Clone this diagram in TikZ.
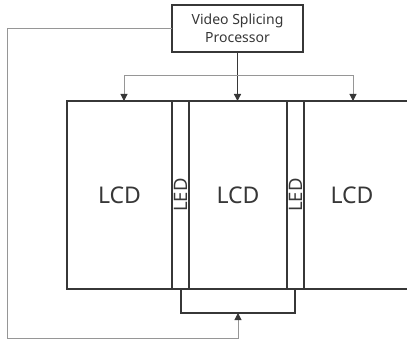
\documentclass[tikz,border=0pt]{standalone}
\usepackage{fontspec}
\setmainfont{Noto Sans}
\usetikzlibrary{arrows.meta,positioning,calc}
\definecolor{inkgray}{RGB}{55,55,55}
\definecolor{wiregray}{RGB}{150,150,150}
\tikzset{
  panel/.style={draw=inkgray,line width=1.3pt,minimum height=188pt,
    inner sep=0pt,outer sep=0pt,text=inkgray},
  lcdbox/.style={panel,font=\fontsize{23}{26}\selectfont},
  ledbox/.style={panel,minimum width=17pt},
  ledtext/.style={rotate=90,text=inkgray,font=\fontsize{18.5}{20}\selectfont},
  feed/.style={draw=inkgray,line width=1.3pt,-{Triangle[length=7pt,width=7pt]}},
  bus/.style={draw=wiregray,line width=1pt},
  busarrow/.style={bus,-{Triangle[length=7pt,width=7pt,color=inkgray]}}
}

\begin{document}
\begin{tikzpicture}[x=1pt,y=-1pt]
    \clip (0,0) rectangle (407,339);
    % processor
    \node[draw=inkgray,line width=1.3pt,minimum width=131pt,minimum height=47pt,
          inner sep=0pt,outer sep=0pt,align=center,text=inkgray,
          font=\fontsize{14}{18}\selectfont] (proc) at (237.5,28.5)
      {Video Splicing\\Processor};
    % the wall of panels
    \node[lcdbox,minimum width=105pt] (lcd1) at (119.5,195) {LCD};
    \node[ledbox,right=0pt of lcd1] (led1) {};
    \node[lcdbox,minimum width=98pt,right=0pt of led1] (lcd2) {LCD};
    \node[ledbox,right=0pt of lcd2] (led2) {};
    \node[lcdbox,minimum width=116pt,right=0pt of led2,text width=100pt,
          align=center] (lcd3) {\hspace*{-20pt}LCD};
    \node[ledtext] at (led1) {LED};
    \node[ledtext] at (led2) {LED};
    % joint under the middle
    \node[draw=inkgray,line width=1.3pt,minimum width=114pt,minimum height=24pt,
          inner sep=0pt,outer sep=0pt,anchor=north] (hub) at (238,289) {};
    % feeds from the processor
    \coordinate (busL) at (124,76);
    \coordinate (busR) at (353,76);
    \draw[feed] (proc.south) -- (proc.south |- lcd2.north);
    \draw[busarrow] (proc.south |- busL) -| (busL |- lcd1.north);
    \draw[busarrow] (proc.south |- busR) -| (busR |- lcd3.north);
    % return loop
    \coordinate (loop) at (7,338);
    \draw[busarrow] (proc.west) -| (loop) -| (hub.south);
\end{tikzpicture}
\end{document}
